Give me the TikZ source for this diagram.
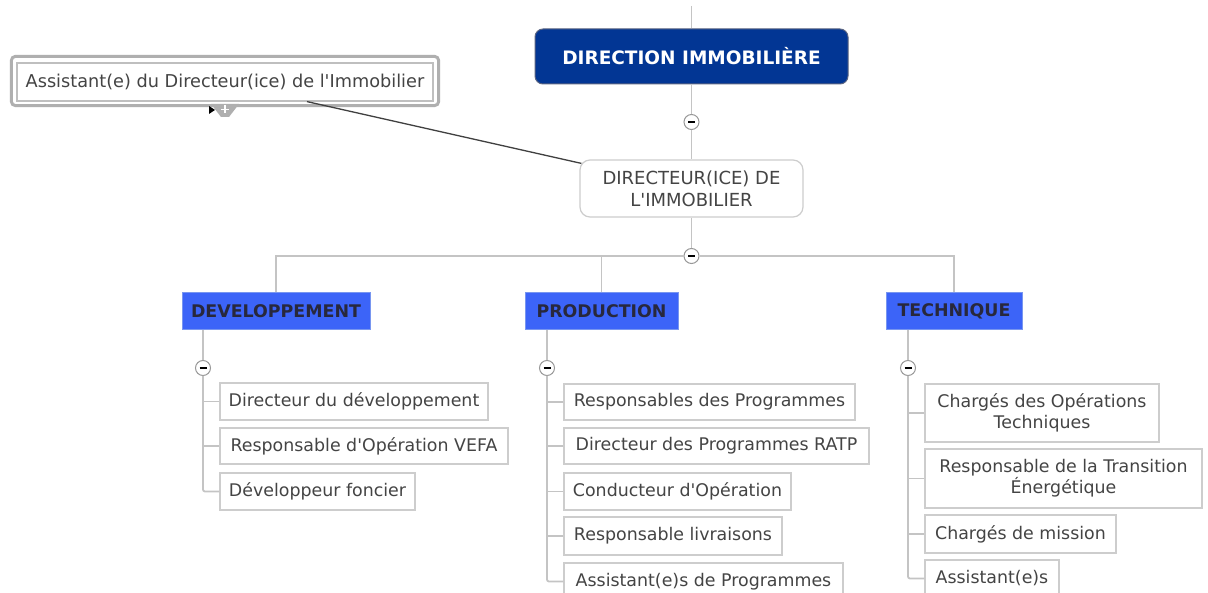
\documentclass[tikz,border=0pt]{standalone}
\usepackage{fontspec}
\newfontfamily\dv{DejaVu Sans}
\definecolor{dirblue}{RGB}{2,54,148}
\definecolor{diredge}{RGB}{90,100,130}
\definecolor{catblue}{RGB}{60,100,248}
\definecolor{catedge}{RGB}{120,150,240}
\definecolor{cattxt}{RGB}{40,40,60}
\definecolor{boxgray}{RGB}{205,205,205}
\definecolor{treegray}{RGB}{196,196,196}
\definecolor{txt}{RGB}{68,68,68}
\definecolor{framegray}{RGB}{175,175,175}
\begin{document}
\begin{tikzpicture}[x=1pt,y=-1pt,
  dirbox/.style={fill=dirblue,draw=diredge,line width=1pt,rounded corners=8pt,text=white,
    font=\dv\bfseries\fontsize{18.5}{22}\selectfont,inner sep=0pt},
  mgrbox/.style={fill=white,draw=boxgray,line width=1.2pt,rounded corners=10pt,text=txt,align=center,
    font=\dv\fontsize{18}{22}\selectfont,inner sep=0pt},
  catbox/.style={fill=catblue,draw=catedge,line width=1pt,text=cattxt,
    font=\dv\bfseries\fontsize{17.4}{21}\selectfont,inner sep=0pt,minimum height=37pt},
  leaf/.style={fill=white,draw=boxgray,line width=1.2pt,text=txt,align=center,
    font=\dv\fontsize{17.4}{21}\selectfont,inner sep=0pt},
  tree/.style={draw=treegray,line width=1.8pt},
  toggle/.style={circle,fill=white,draw=gray!80,line width=1pt,minimum size=15pt,inner sep=0pt,
    path picture={\draw[black,line width=1.8pt] (path picture bounding box.center) +(-3.5,0) -- +(3.5,0);}},
  conn/.style={draw=black!75,line width=1.3pt}
]
\useasboundingbox (0,0) rectangle (1208,593);
\clip (0,0) rectangle (1208,593);
\fill[white] (0,0) rectangle (1208,593);

% top
\coordinate (top) at (691.5,6);
\node[dirbox,minimum width=313pt,minimum height=55pt] (dir) at (691.5,56.5) {DIRECTION IMMOBILIÈRE};
\node[mgrbox,minimum width=223pt,minimum height=57pt] (mgr) at (691.5,188.5) {DIRECTEUR(ICE) DE\\L'IMMOBILIER};
\node[toggle] (tg1) at (691.5,122) {};
\node[toggle] (tg2) at (691.5,256) {};
\draw[tree] (top) -- (dir.north);
\draw[tree] (dir.south) -- (tg1);
\draw[tree] (tg1) -- (mgr.north);
\draw[tree] (mgr.south) -- (tg2);

% assistant
\node[leaf,draw=framegray!80,minimum width=416pt,minimum height=38pt,font=\dv\fontsize{17.7}{21}\selectfont] (ast) at (225,82) {Assistant(e) du Directeur(ice) de l'Immobilier};
\draw[draw=framegray,line width=3pt,rounded corners=4pt] ([xshift=-5pt,yshift=6pt]ast.north west) rectangle ([xshift=5pt,yshift=-4pt]ast.south east);
\fill[framegray] (211,104) -- (239,104) -- (229,117) -- (221,117) -- cycle;
\draw[white,line width=1.4pt] (221,109.5) -- (229,109.5) (225,105.5) -- (225,113.5);
\fill[black] (209,106) -- (215,110) -- (209,114) -- cycle;
\draw[conn] ([xshift=2pt,yshift=-4pt]mgr.north west) -- ([xshift=82pt]ast.south);

% categories
\node[catbox,minimum width=188pt] (dev) at (276,311.5) {DEVELOPPEMENT};
\node[catbox,minimum width=153pt] (prod) at (601.5,311.5) {PRODUCTION};
\node[catbox,minimum width=136pt] (tech) at (954,311.5) {TECHNIQUE};
\draw[tree] (dev.north) |- (tg2);
\draw[tree] (tech.north) |- (tg2);
\draw[tree] (prod.north) -- (prod.north |- tg2);

% developpement
\node[toggle] (tgd) at (203,368) {};
\node[leaf,minimum width=268pt,minimum height=37pt] (d1) at (354,401.5) {Directeur du développement};
\node[leaf,minimum width=288pt,minimum height=36pt] (d2) at (364,446) {Responsable d'Opération VEFA};
\node[leaf,minimum width=195pt,minimum height=37pt] (d3) at (317.5,491.5) {Développeur foncier};
\draw[tree] (dev.south -| tgd) -- (tgd);
\draw[tree,rounded corners=2pt] (tgd) |- (d3.west);
\draw[tree] (d1.west) -- (d1.west -| tgd);
\draw[tree] (d2.west) -- (d2.west -| tgd);

% production
\node[toggle] (tgp) at (547,368) {};
\node[leaf,minimum width=291pt,minimum height=36pt] (p1) at (709.5,402) {Responsables des Programmes};
\node[leaf,minimum width=305pt,minimum height=36pt] (p2) at (716.5,446) {Directeur des Programmes RATP};
\node[leaf,minimum width=227pt,minimum height=37pt] (p3) at (677.5,491.5) {Conducteur d'Opération};
\node[leaf,minimum width=218pt,minimum height=38pt] (p4) at (673,536) {Responsable livraisons};
\node[leaf,minimum width=279pt,minimum height=37pt] (p5) at (703.5,581.5) {Assistant(e)s de Programmes};
\draw[tree] (prod.south -| tgp) -- (tgp);
\draw[tree,rounded corners=2pt] (tgp) |- (p5.west);
\draw[tree] (p1.west) -- (p1.west -| tgp);
\draw[tree] (p2.west) -- (p2.west -| tgp);
\draw[tree] (p3.west) -- (p3.west -| tgp);
\draw[tree] (p4.west) -- (p4.west -| tgp);

% technique
\node[toggle] (tgt) at (908,368) {};
\node[leaf,minimum width=234pt,minimum height=58pt] (t1) at (1042,413) {Chargés des Opérations\\Techniques};
\node[leaf,minimum width=277pt,minimum height=59pt] (t2) at (1063.5,478.5) {Responsable de la Transition\\Énergétique};
\node[leaf,minimum width=191pt,minimum height=38pt] (t3) at (1020.5,534) {Chargés de mission};
\node[leaf,minimum width=134pt,minimum height=37pt] (t4) at (992,578.5) {Assistant(e)s};
\draw[tree] (tech.south -| tgt) -- (tgt);
\draw[tree,rounded corners=2pt] (tgt) |- (t4.west);
\draw[tree] (t1.west) -- (t1.west -| tgt);
\draw[tree] (t2.west) -- (t2.west -| tgt);
\draw[tree] (t3.west) -- (t3.west -| tgt);
\end{tikzpicture}
\end{document}
